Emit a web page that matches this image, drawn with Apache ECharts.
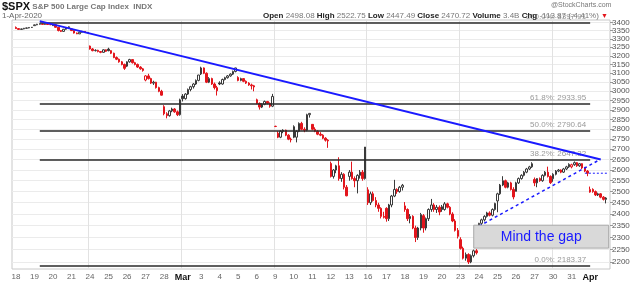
<!DOCTYPE html>
<html><head><meta charset="utf-8">
<script src="https://cdn.jsdelivr.net/npm/echarts@6/dist/echarts.min.js"></script>
<style>html,body{margin:0;padding:0;background:#fff}#c{width:640px;height:282px}</style>
</head><body><div id="c"></div>
<script>
const dayLabels = ['18','19','20','21','24','25','26','27','28','Mar','3','4','5','6','9','10','11','12','13','16','17','18','19','20','23','24','25','26','27','30','31','Apr'];
const hourLabels = ['09:30','10:30','11:30','12:30','13:30','14:30','15:30'];
const mondayDays = [4,9,14,19,24,29];
const boldDays = ['Mar','Apr'];

const opens = [
3369,3362,3357,3360,3364,3366,3369, 3380,3385,3389,3391,3388,3390,3387, 3380,3386,3370,3350,3345,3358,3368, 3360,3350,3335,3330,3340,3345,3338,
3257,3240,3230,3232,3225,3220,3235, 3239,3230,3215,3190,3180,3165,3150, 3140,3165,3178,3160,3150,3135,3125, 3062,3085,3070,3045,3050,3020,3000, 2917,2880,2870,2895,2905,2890,2875,
2974,2960,2985,3010,3025,3040,3060, 3096,3130,3100,3050,3070,3040,3020, 3046,3040,3065,3075,3085,3095,3110, 3076,3060,3070,3055,3045,3035,3030, 2954,2935,2915,2930,2945,2935,2920,
2815,2780,2760,2790,2795,2770,2750, 2813,2760,2790,2830,2800,2795,2875, 2825,2800,2790,2775,2770,2755,2745, 2631,2570,2600,2620,2560,2580,2520, 2570,2590,2560,2550,2575,2590,2560,
2508,2450,2490,2460,2440,2425,2390, 2425,2380,2440,2480,2510,2500,2520, 2436,2420,2380,2390,2340,2300,2340, 2393,2340,2380,2420,2440,2420,2430, 2432,2420,2445,2430,2400,2370,2330,
2291,2255,2215,2230,2200,2225,2245, 2344,2360,2375,2390,2405,2395,2420, 2458,2490,2530,2550,2520,2540,2510, 2501,2540,2560,2575,2590,2605,2615, 2556,2540,2560,2550,2575,2590,2570,
2559,2580,2595,2600,2590,2605,2615, 2615,2625,2635,2620,2630,2610,2595, 2498,2510,2500,2485,2490,2475,2465];
const highs = [
3375,3365,3362,3366,3368,3371,3372, 3387,3391,3393.5,3392,3392,3391,3389, 3389,3387,3372,3353,3360,3370,3376, 3361,3352,3338,3342,3348,3347,3342,
3260,3245,3238,3235,3228,3238,3237, 3247,3233,3218,3196,3184,3170,3155, 3168,3182.5,3180,3165,3155,3140,3130, 3090,3097,3075,3058,3052,3025,3008, 2925,2888,2900,2912,2910,2897,2960,
2985,2990,3015,3030,3045,3065,3091, 3137,3133,3105,3078,3075,3048,3030, 3055,3070,3080,3090,3100,3115,3131, 3083,3075,3073,3060,3050,3042,3035, 2960,2940,2935,2950,2948,2940,2986,
2818,2790,2795,2800,2798,2775,2758, 2820,2795,2835,2838,2810,2880,2883, 2826,2810,2795,2785,2775,2760,2750, 2640,2605,2625,2661,2590,2585,2530, 2600,2640,2570,2580,2600,2600,2711,
2520,2500,2500,2475,2450,2430,2410, 2430,2445,2485,2554,2515,2525,2535, 2453,2425,2400,2395,2350,2345,2405, 2400,2385,2425,2467,2448,2440,2438, 2440,2453,2450,2435,2408,2378,2340,
2301,2262,2238,2235,2230,2250,2252, 2362,2380,2395,2410,2412,2425,2450, 2495,2535,2571,2555,2545,2545,2520, 2545,2565,2580,2595,2610,2620,2637, 2565,2562,2565,2580,2595,2616,2575,
2585,2600,2605,2603,2610,2620,2632, 2630,2641,2638,2633,2632,2615,2600, 2523,2515,2505,2495,2493,2480,2475];
const lows = [
3360,3356,3355.6,3358,3361,3364,3366, 3379,3383,3387,3386,3386,3385,3383, 3378,3368,3345,3341,3343,3355,3364, 3347,3332,3328.5,3329,3337,3335,3334,
3236,3226,3225,3220,3215,3218,3222, 3226,3210,3186,3175,3160,3145,3119, 3135,3160,3155,3145,3130,3120,3109, 3055,3065,3040,3035,3015,2995,2977, 2872,2856,2865,2888,2885,2868,2870,
2945,2955,2980,3000,3015,3035,3055, 3090,3095,3045,3045,3035,3010,2977, 3034,3036,3060,3070,3080,3090,3105, 3055,3055,3050,3040,3030,3010,3000, 2930,2902,2910,2925,2930,2912,2915,
2811,2755,2755,2780,2765,2745,2734, 2755,2734,2785,2795,2785,2790,2860, 2795,2785,2770,2765,2750,2738,2707, 2565,2560,2585,2550,2545,2510,2479, 2550,2555,2520,2492,2560,2550,2555,
2440,2440,2455,2430,2410,2381,2381, 2367,2370,2430,2475,2490,2495,2505, 2410,2370,2360,2335,2281,2290,2330, 2320,2330,2370,2410,2410,2405,2395, 2410,2415,2425,2395,2365,2325,2296,
2250,2210,2205,2192,2195,2218,2230, 2344,2352,2368,2385,2390,2390,2415, 2408,2485,2525,2515,2515,2505,2465, 2501,2535,2555,2570,2585,2600,2610, 2525,2520,2545,2545,2570,2565,2535,
2545,2575,2590,2585,2586,2600,2610, 2608,2620,2615,2615,2605,2590,2571, 2495,2495,2480,2480,2470,2460,2447];
const closes = [
3362,3357,3360,3364,3366,3369,3370, 3385,3389,3391,3388,3390,3387,3386, 3386,3370,3350,3345,3358,3368,3373, 3350,3335,3330,3340,3345,3338,3338,
3240,3230,3232,3225,3220,3235,3226, 3230,3215,3190,3180,3165,3150,3128, 3165,3178,3160,3150,3135,3125,3116, 3085,3070,3045,3050,3020,3000,2979, 2880,2870,2895,2905,2890,2875,2954,
2960,2985,3010,3025,3040,3060,3090, 3130,3100,3050,3070,3040,3020,3003, 3040,3065,3075,3085,3095,3110,3130, 3060,3070,3055,3045,3035,3030,3024, 2935,2915,2930,2945,2935,2920,2972,
2814,2760,2790,2795,2770,2750,2747, 2760,2790,2830,2800,2795,2875,2882, 2800,2790,2775,2770,2755,2745,2741, 2570,2600,2620,2560,2580,2520,2481, 2590,2560,2550,2575,2590,2560,2711,
2450,2490,2460,2440,2425,2390,2386, 2380,2440,2480,2510,2500,2520,2529, 2420,2380,2390,2340,2300,2340,2398, 2340,2380,2420,2440,2420,2430,2409, 2420,2445,2430,2400,2370,2330,2305,
2255,2215,2230,2200,2225,2245,2237, 2360,2375,2390,2405,2395,2420,2447, 2490,2530,2550,2520,2540,2510,2476, 2540,2560,2575,2590,2605,2615,2630, 2540,2560,2550,2575,2590,2570,2541,
2580,2595,2600,2590,2605,2615,2627, 2625,2635,2620,2630,2610,2595,2585, 2510,2500,2485,2490,2475,2465,2471];

const yTicks = [2200,2250,2300,2350,2400,2450,2500,2550,2600,2650,2700,2750,2800,2850,2900,2950,3000,3050,3100,3150,3200,3250,3300,3350,3400];
const fibNames = ['100.0%','61.8%','50.0%','38.2%','0.0%'];
const fibLevels = [3397.91,2933.95,2790.64,2647.32,2183.37];
const fibRange = [10, 218];            // bar indexes (start, end) of the retracement lines
const trendSolid = [[10, 3408],[222, 2650]];
const trendDashed = [[176, 2348],[221, 2645]];
const gapLevel = [[216, 2585],[225, 2585]];
const gapBox = {from: 174, to: 229, top: 2352, bottom: 2256, text: 'Mind the gap'};
const headerKeys = ['Open','High','Low','Close','Volume','Chg'];
const headerVals = ['2498.08','2522.75','2447.49','2470.72','3.4B','-113.87 (-4.41%)'];

const L = Math.log;
const RED = '#e3151c', BLK = '#3a3a3a';
const cats = [''];
dayLabels.forEach((d, i) => hourLabels.forEach(h => cats.push(i + '|' + h)));
cats.push('');
const candle = [{value: '-'}];
for (let i = 0; i < opens.length; i++) {
  const o = opens[i], c = closes[i];
  const prev = i > 0 ? closes[i - 1] : o;
  const col = c >= prev ? BLK : RED;
  const hollow = c >= o;
  candle.push({
    value: [L(o), L(c), L(lows[i]), L(highs[i])],
    itemStyle: {color: hollow ? '#fff' : col, color0: hollow ? '#fff' : col, borderColor: col, borderColor0: col}
  });
}
candle.push({value: '-'});
const isDayStart = i => i >= 1 && i <= opens.length && (i - 1) % hourLabels.length === 0;
const dayOf = i => Math.floor((i - 1) / hourLabels.length);

const chart = echarts.init(document.getElementById('c'), null, {renderer: 'canvas'});
const FF = '"Liberation Sans", Arial, sans-serif';
let header = '';
headerKeys.forEach((k, i) => { header += '{k|' + k + '} {v|' + headerVals[i] + '} '; });
header += '{r|▼}';
chart.setOption({
  animation: false,
  textStyle: {fontFamily: FF},
  title: [
    {text: '{a|$SPX} {b|S&P 500 Large Cap Index  INDX}', left: 2, top: 1, padding: 0,
     textStyle: {fontSize: 8, fontFamily: FF, rich: {a: {fontSize: 11, fontWeight: 'bold', color: '#111', fontFamily: FF}, b: {fontSize: 8, color: '#777', fontFamily: FF}}}},
    {text: '1-Apr-2020', left: 2, top: 12, padding: 0, textStyle: {fontSize: 8, fontWeight: 'normal', color: '#666', fontFamily: FF}},
    {text: header, left: 263, top: 12, padding: 0,
     textStyle: {fontSize: 8, fontWeight: 'normal', fontFamily: FF, rich: {k: {fontSize: 8, fontWeight: 'bold', color: '#222', fontFamily: FF}, v: {fontSize: 8, color: '#777', fontFamily: FF}, r: {fontSize: 7, color: '#e3151c'}}}},
    {text: '@StockCharts.com', left: 551, top: 2, padding: 0, textStyle: {fontSize: 7, fontWeight: 'normal', color: '#777', fontFamily: FF}}
  ],
  grid: {left: 12, right: 30, top: 20, bottom: 12, show: true, borderColor: '#c8c8c8', borderWidth: 1, backgroundColor: '#fff'},
  xAxis: {
    type: 'category', data: cats, boundaryGap: true,
    axisLine: {show: false}, axisTick: {show: false},
    axisLabel: {
      interval: (i) => isDayStart(i), margin: 4, fontSize: 8, color: '#666',
      formatter: (v, i) => { const d = dayLabels[dayOf(i)]; return boldDays.includes(d) ? '{b|' + d + '}' : d; },
      rich: {b: {fontWeight: 'bold', color: '#111', fontSize: 9, fontFamily: FF}}
    },
    splitLine: {show: true, interval: (i) => isDayStart(i) && mondayDays.includes(dayOf(i)), lineStyle: {color: '#e2e2e2', width: 1}}
  },
  yAxis: {
    type: 'value', position: 'right', scale: true,
    min: L(2172), max: L(3415),
    axisLine: {show: false},
    axisTick: {show: true, length: 3, customValues: yTicks.map(L), lineStyle: {color: '#999'}},
    axisLabel: {customValues: yTicks.map(L), formatter: v => String(Math.round(Math.exp(v))), fontSize: 8, color: '#555', margin: 2},
    splitLine: {show: true, lineStyle: {color: '#ebebeb', width: 1}}
  },
  series: [
    {
      type: 'candlestick', data: candle, barWidth: 2, z: 3,
      itemStyle: {borderWidth: 1},
      markLine: {
        silent: true, symbol: ['none', 'none'], animation: false,
        lineStyle: {color: '#2a2a2a', width: 1.5, type: 'solid'},
        label: {show: true, position: 'insideEndTop', formatter: '{b}', fontSize: 8, color: '#999', distance: [4, 2], fontFamily: FF},
        data: fibLevels.map((v, i) => [
          {name: fibNames[i] + ': ' + v.toFixed(2), coord: [fibRange[0], L(v)]},
          {coord: [fibRange[1], L(v)]}
        ])
      }
    },
    {type: 'line', data: trendSolid.map(p => [p[0], L(p[1])]), showSymbol: false, z: 6,
     lineStyle: {color: '#1a1aff', width: 2}},
    {type: 'line', data: trendDashed.map(p => [p[0], L(p[1])]), showSymbol: false, z: 6,
     lineStyle: {color: '#1a1aff', width: 1.5, type: [3, 3]}},
    {type: 'line', data: gapLevel.map(p => [p[0], L(p[1])]), showSymbol: false, z: 6,
     lineStyle: {color: '#1a1aff', width: 1, type: [2, 2]},
     markArea: {
       z: 10, silent: true,
       itemStyle: {color: '#d9d9d9', borderColor: '#a8a8a8', borderWidth: 1},
       label: {show: true, position: 'inside', formatter: gapBox.text, color: '#1a1aff', fontSize: 14, fontFamily: FF},
       data: [[{xAxis: gapBox.from, yAxis: L(gapBox.top)}, {xAxis: gapBox.to, yAxis: L(gapBox.bottom)}]]
     }}
  ]
});
</script></body></html>
